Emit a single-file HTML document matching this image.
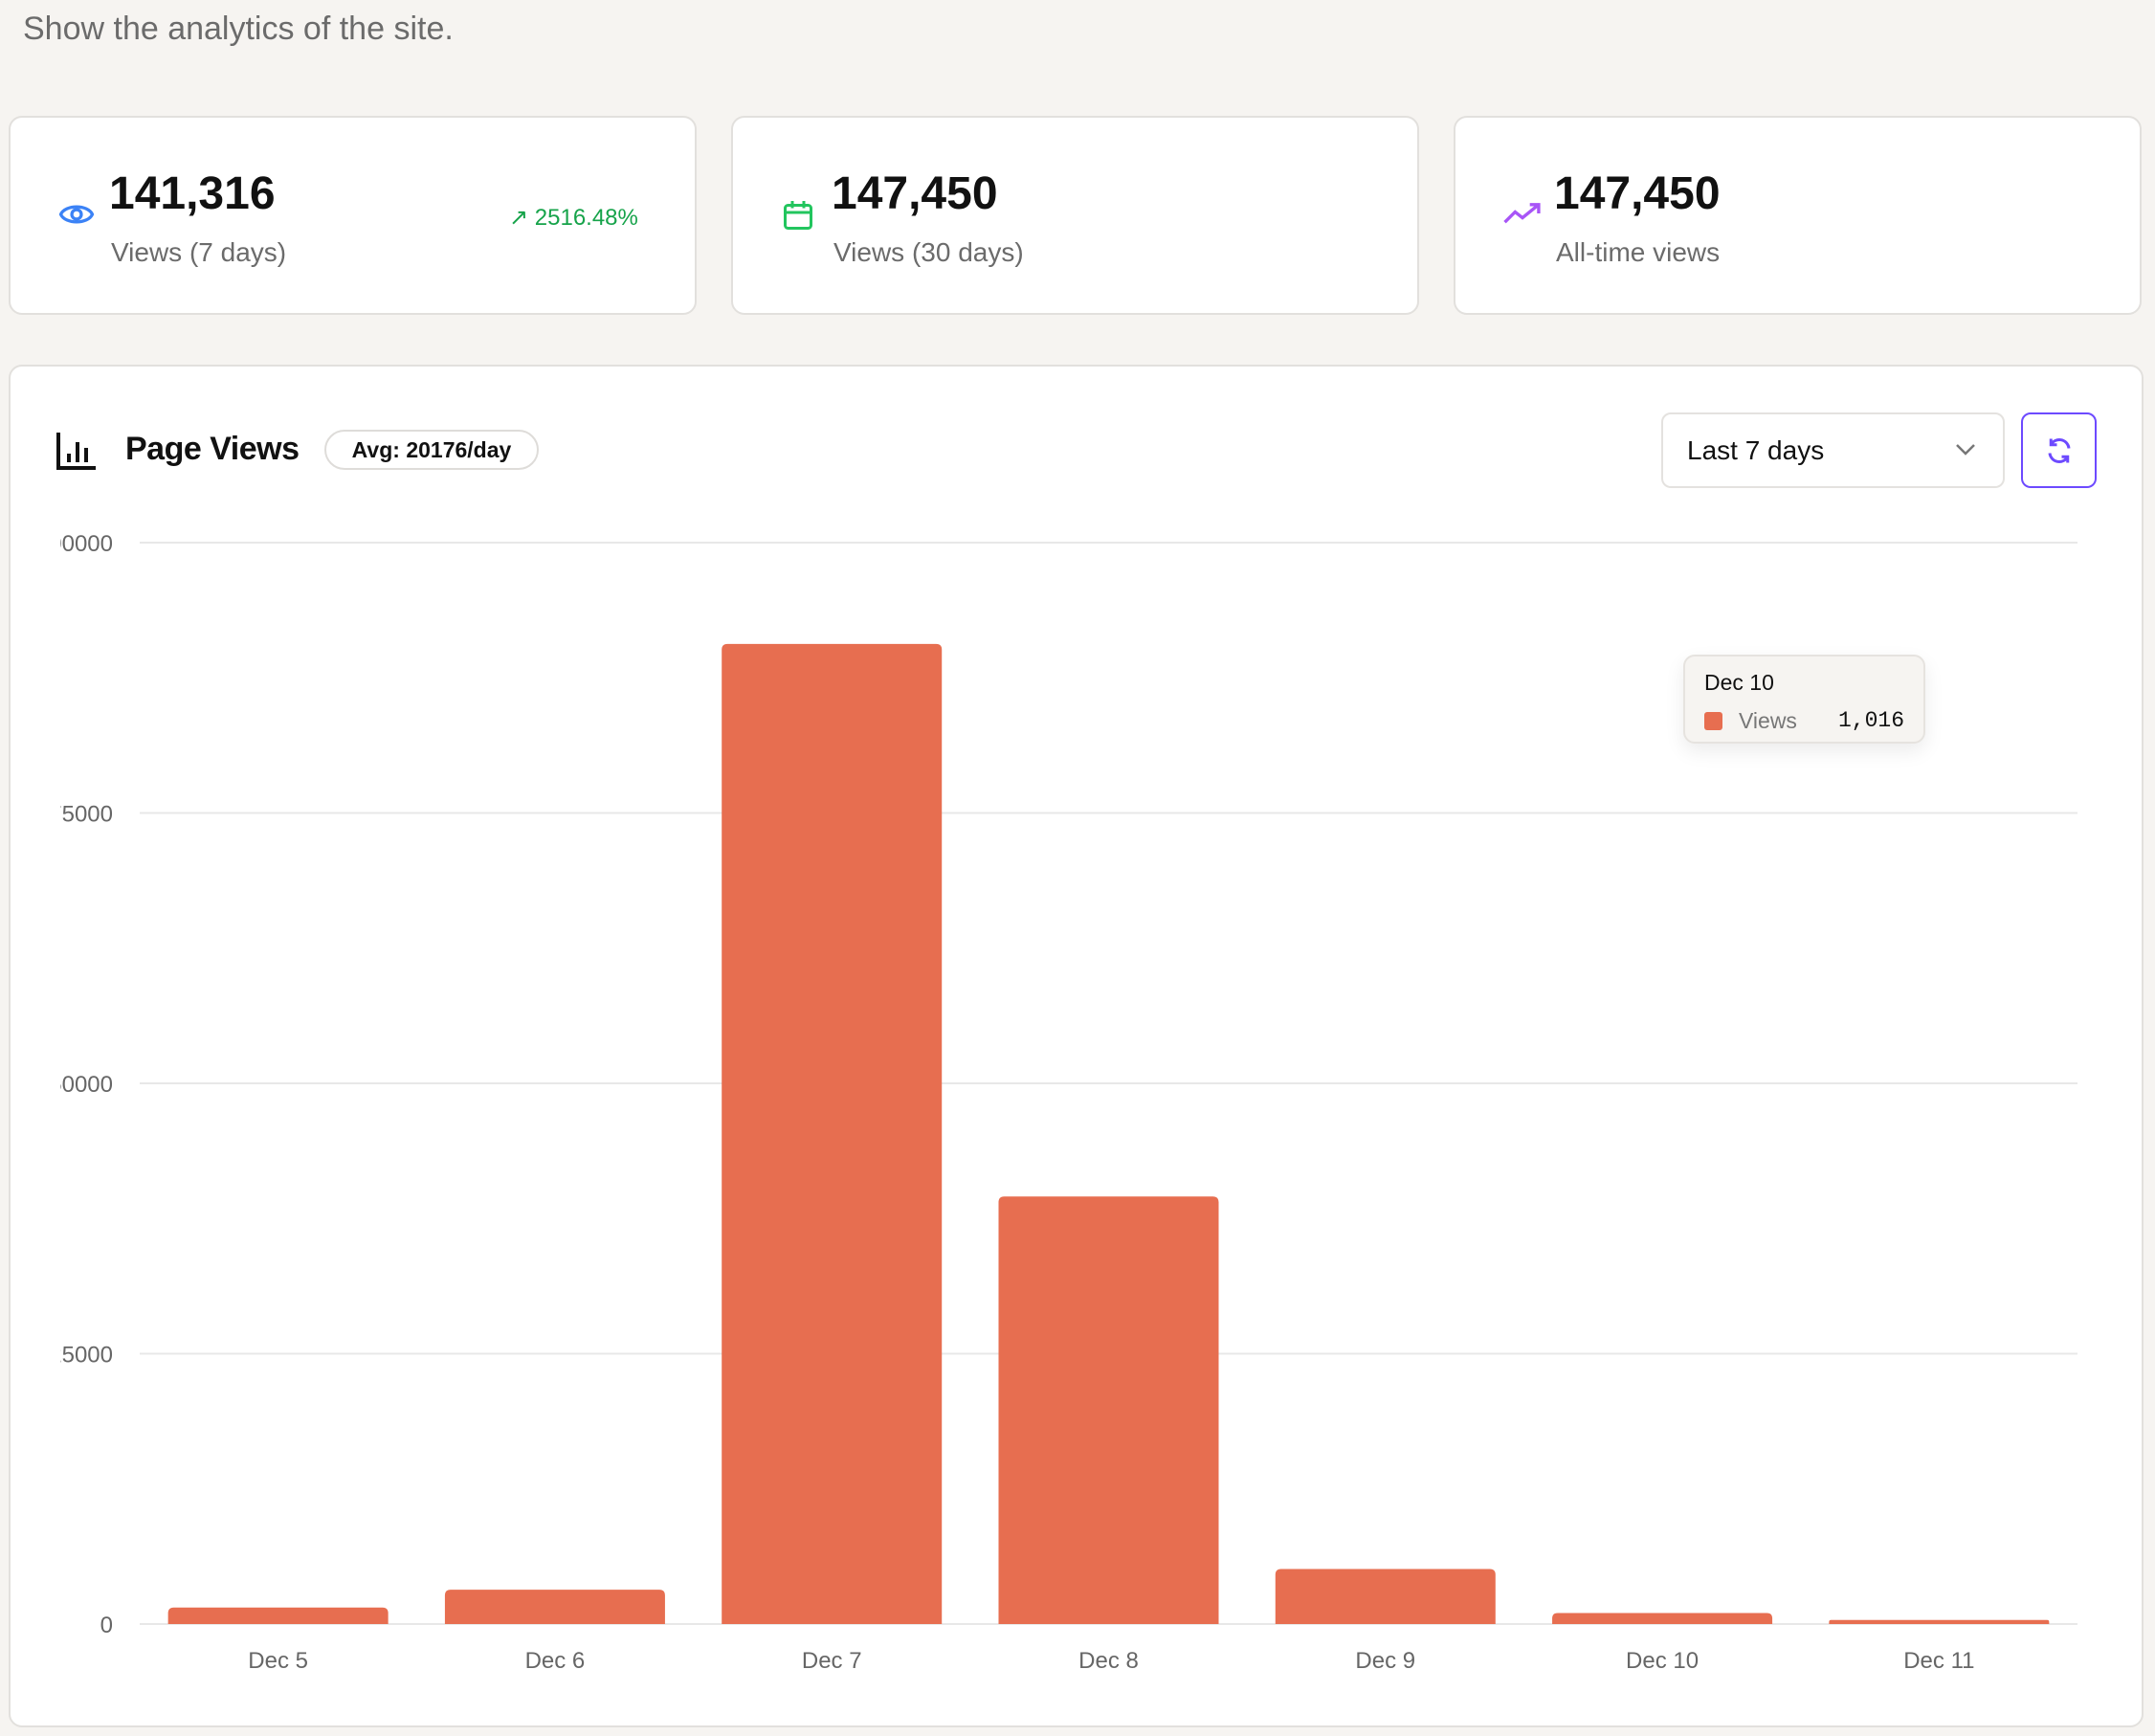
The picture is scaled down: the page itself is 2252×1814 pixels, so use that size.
<!DOCTYPE html>
<html><head><meta charset="utf-8"><style>
body{margin:0;width:2252px;height:1814px;background:#f6f4f1;font-family:"Liberation Sans",sans-serif;position:relative;overflow:hidden}
.abs{position:absolute}
.card{position:absolute;top:121px;width:719px;height:208px;background:#fff;border:2px solid #e2e0dd;border-radius:14px;box-sizing:border-box}
.num{position:absolute;left:103px;top:52px;font-size:48px;font-weight:bold;color:#111}
.lbl{position:absolute;left:105px;top:125px;font-size:28px;color:#6b6b6b}
.ico{position:absolute;left:50px;top:86px}
</style></head><body>
<div class="abs" style="left:24px;top:11px;font-size:34px;color:#6b6b6b">Show the analytics of the site.</div>

<div class="card" style="left:9px">
<svg class="ico" width="38" height="30" viewBox="0 0 24 20"><path d="M1 10C4 3 20 3 23 10C20 17 4 17 1 10Z" fill="none" stroke="#3b82f6" stroke-width="2.2"/><circle cx="12" cy="10" r="3.3" fill="none" stroke="#3b82f6" stroke-width="2.2"/></svg>
<div class="num">141,316</div>
<div class="lbl">Views (7 days)</div>
<div class="abs" style="left:521px;top:90px;font-size:24px;color:#16a34a">↗ 2516.48%</div>
</div>
<div class="card" style="left:764px">
<svg class="ico" width="36" height="36" viewBox="0 0 24 24" style="top:84px"><rect x="3" y="5" width="18" height="16" rx="2" fill="none" stroke="#22c55e" stroke-width="2"/><path d="M3 10H21M8 2V7M16 2V7" stroke="#22c55e" stroke-width="2"/></svg>
<div class="num">147,450</div>
<div class="lbl">Views (30 days)</div>
</div>
<div class="card" style="left:1519px">
<svg class="ico" width="40" height="28" viewBox="0 0 26 18"><path d="M1 15L8 8L13 12L24 3M18 3H24V9" fill="none" stroke="#a855f7" stroke-width="2.2"/></svg>
<div class="num">147,450</div>
<div class="lbl">All-time views</div>
</div>

<div class="abs" style="left:9px;top:381px;width:2231px;height:1424px;background:#fff;border:2px solid #e2e0dd;border-radius:14px;box-sizing:border-box"></div>
<svg class="abs" style="left:58px;top:450px" width="44" height="42" viewBox="0 0 44 42"><path d="M3 2V39H42" fill="none" stroke="#111" stroke-width="4"/><path d="M14 24V33M23 12V33M32 18V33" stroke="#111" stroke-width="4"/></svg>
<div class="abs" style="left:131px;top:450px;font-size:34px;font-weight:bold;color:#111;letter-spacing:-0.5px">Page Views</div>
<div class="abs" style="left:339px;top:449px;width:224px;height:42px;box-sizing:border-box;border:2px solid #dedcd9;border-radius:22px;font-size:23px;font-weight:bold;text-align:center;line-height:38px;color:#111">Avg: 20176/day</div>
<div class="abs" style="left:1736px;top:431px;width:359px;height:79px;box-sizing:border-box;border:2px solid #e4e2df;border-radius:10px;font-size:28px;color:#111;line-height:75px;padding-left:25px">Last 7 days
<svg class="abs" style="right:28px;top:30px" width="22" height="14" viewBox="0 0 22 14"><path d="M2 2L11 11L20 2" fill="none" stroke="#777" stroke-width="2.5"/></svg></div>
<div class="abs" style="left:2112px;top:431px;width:79px;height:79px;box-sizing:border-box;border:2px solid #6d4aff;border-radius:10px">
<svg class="abs" style="left:23px;top:23px" width="30" height="30" viewBox="0 0 24 24"><path d="M20 10A8 8 0 0 0 5 7M4 14A8 8 0 0 0 19 17M5 2V7H10M19 22V17H14" fill="none" stroke="#6d4aff" stroke-width="2.4"/></svg></div>

<svg id="chart" class="abs" style="left:0;top:0" width="2252" height="1814"></svg>

<div class="abs" style="left:1759px;top:684px;width:253px;height:93px;box-sizing:border-box;background:#f6f4f1;border:2px solid #e6e3df;border-radius:12px;box-shadow:0 8px 20px rgba(0,0,0,0.08)">
<div class="abs" style="left:20px;top:14px;font-size:23px;color:#111">Dec 10</div>
<div class="abs" style="left:20px;top:58px;width:19px;height:19px;background:#e76e50;border-radius:3px"></div>
<div class="abs" style="left:56px;top:54px;font-size:23px;color:#777">Views</div>
<div class="abs" style="right:20px;top:54px;font-size:23px;color:#111;font-family:'Liberation Mono',monospace">1,016</div>
</div>

<script>
const categories=["Dec 5","Dec 6","Dec 7","Dec 8","Dec 9","Dec 10","Dec 11"];
const views=[1525,3178,90632,39532,5085,1016,381];
const yTicks=[0,25000,50000,75000,100000];
const yTickLabels=["0","25000","50000","75000","100000"];
const NS="http://www.w3.org/2000/svg";
const svg=document.getElementById('chart');
const X0=146,X1=2171,Y0=1697,Y1=567,YMAX=100000;
const band=(X1-X0)/categories.length;
const y=v=>Y0-(v/YMAX)*(Y0-Y1);
const xc=i=>X0+band*(i+0.5);
function mk(t,a){const e=document.createElementNS(NS,t);for(const k in a)e.setAttribute(k,a[k]);svg.appendChild(e);return e;}
const defs=mk('defs',{});
const cp=document.createElementNS(NS,'clipPath');cp.setAttribute('id','yclip');
const cr=document.createElementNS(NS,'rect');cr.setAttribute('x',63);cr.setAttribute('y',500);cr.setAttribute('width',200);cr.setAttribute('height',1300);
cp.appendChild(cr);defs.appendChild(cp);
yTicks.forEach((t,i)=>{
 const l=mk('line',{x1:X0,x2:X1,y1:y(t),y2:y(t),stroke:'#e8e8e8','stroke-width':2});
 
 
 const tx=mk('text',{x:118,y:y(t)+9,'text-anchor':'end','font-size':24,fill:'#666','clip-path':'url(#yclip)'});
 tx.textContent=yTickLabels[i];
 
 
});
const bw=230;
views.forEach((v,i)=>{
 const h=Math.max(Y0-y(v),2);
 const r=Math.min(6,h/2);
 const x=xc(i)-bw/2,top=Y0-h;
 const p=mk('path',{d:`M${x},${Y0}V${top+r}Q${x},${top} ${x+r},${top}H${x+bw-r}Q${x+bw},${top} ${x+bw},${top+r}V${Y0}Z`,fill:'#e76e50'});
 
 
 const tx=mk('text',{x:xc(i),y:1743,'text-anchor':'middle','font-size':24,fill:'#666'});
 tx.textContent=categories[i];
 
 
});
</script>
</body></html>
